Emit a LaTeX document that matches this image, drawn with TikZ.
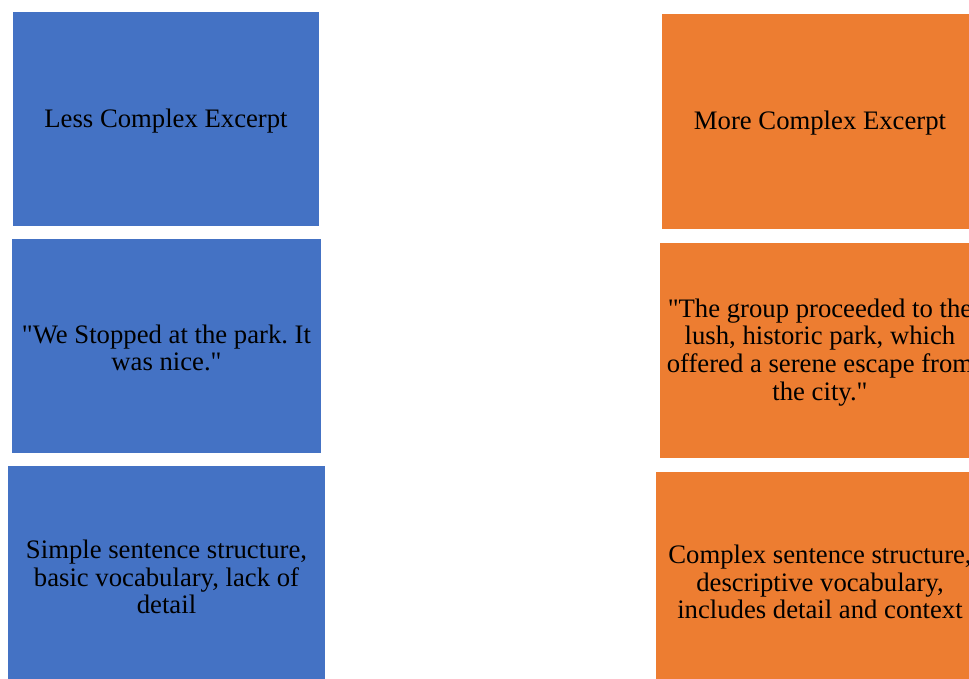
\documentclass[tikz,border=0pt]{standalone}
\usepackage{fontspec}
\newfontfamily\cardfont{Liberation Serif}
\definecolor{boxblue}{HTML}{4472C4}
\definecolor{boxorange}{HTML}{ED7D31}
\frenchspacing
\begin{document}
\begin{tikzpicture}[x=1pt,y=-1pt,
  card/.style={rectangle, draw=none, inner sep=0pt},
  less/.style={card, fill=boxblue},
  more/.style={card, fill=boxorange},
  cardtext/.style={inner sep=0pt, align=center, yshift=-2pt,
    font=\cardfont\fontsize{26.7}{27.8}\selectfont, text=black}]
  \useasboundingbox (0,0) rectangle (969,678);
  \clip (0,0) rectangle (969,678);
  % left column
  \node[less, minimum width=306pt, minimum height=214pt] (l1) at (166,119) {};
  \node[cardtext] (l1t) at (l1.center) {Less Complex Excerpt};
  \node[less, minimum width=309pt, minimum height=214pt] (l2) at (166.5,346) {};
  \node[cardtext] (l2t) at (l2.center)
    {"We Stopped at the park. It\\was nice."};
  \node[less, minimum width=317pt, minimum height=218pt] (l3) at (166.5,575) {};
  \node[cardtext] (l3t) at (l3.center)
    {Simple sentence structure,\\basic vocabulary, lack of\\detail};
  % right column
  \node[more, minimum width=316pt, minimum height=215pt] (r1) at (820,121.5) {};
  \node[cardtext] (r1t) at (r1.center) {More Complex Excerpt};
  \node[more, minimum width=320pt, minimum height=215pt] (r2) at (820,350.5) {};
  \node[cardtext] (r2t) at (r2.center)
    {"The group proceeded to the\\lush, historic park, which\\offered a serene escape from\\the city."};
  \node[more, minimum width=328pt, minimum height=216pt] (r3) at (820,580) {};
  \node[cardtext] (r3t) at (r3.center)
    {Complex sentence structure,\\descriptive vocabulary,\\includes detail and context};
\end{tikzpicture}
\end{document}
